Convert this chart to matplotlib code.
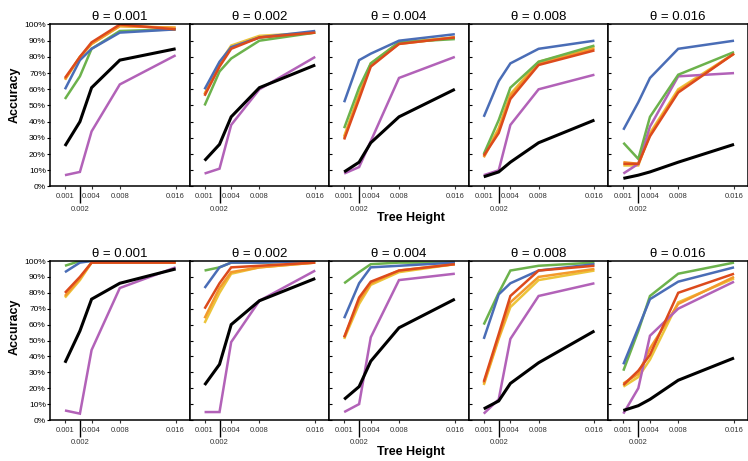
import numpy as np
import matplotlib
matplotlib.use('Agg')
import matplotlib.pyplot as plt
from matplotlib.ticker import FixedLocator, PercentFormatter, NullFormatter

plt.rcParams['font.family'] = ['Liberation Sans', 'DejaVu Sans']

# tree heights on the x axis, theta of each column
heights = [0.001, 0.002, 0.004, 0.008, 0.016]
thetas = ['0.001', '0.002', '0.004', '0.008', '0.016']

# accuracy in %, one list per panel (theta 0.001 .. 0.016)
top_black = [[25, 40, 61, 78, 85], [16, 26, 43, 61, 75], [9, 15, 27, 43, 60],
             [6, 9, 15, 27, 41], [5, 7, 9, 15, 26]]
top_purple = [[7, 9, 34, 63, 81], [8, 11, 38, 60, 80], [8, 12, 28, 67, 80],
              [7, 10, 38, 60, 69], [8, 14, 37, 68, 70]]
top_yellow = [[66, 80, 88, 99, 98], [57, 76, 87, 93, 95], [31, 57, 76, 89, 92],
              [19, 36, 57, 77, 86], [13, 13, 33, 60, 82]]
top_orange = [[66, 80, 88, 99, 98], [57, 75, 86, 92, 95], [30, 56, 75, 88, 92],
              [18, 35, 56, 76, 85], [15, 14, 32, 59, 82]]
top_green = [[54, 68, 85, 96, 97], [50, 71, 79, 90, 95], [36, 61, 76, 89, 91],
             [20, 41, 61, 77, 87], [27, 17, 43, 69, 83]]
top_blue = [[60, 78, 85, 95, 97], [60, 77, 86, 92, 96], [52, 78, 82, 90, 94],
            [43, 65, 76, 85, 90], [35, 52, 67, 85, 90]]
top_red = [[67, 80, 89, 100, 97], [56, 74, 85, 92, 95], [29, 54, 74, 88, 92],
           [19, 33, 54, 75, 84], [14, 14, 31, 58, 82]]

bot_black = [[36, 56, 76, 86, 95], [22, 35, 60, 75, 89], [13, 21, 37, 58, 76],
             [7, 12, 23, 36, 56], [6, 9, 13, 25, 39]]
bot_purple = [[6, 4, 44, 83, 96], [5, 5, 49, 75, 94], [5, 10, 52, 88, 92],
              [4, 13, 51, 78, 86], [4, 20, 53, 70, 87]]
bot_yellow = [[77, 88, 99, 99, 99], [61, 80, 92, 96, 99], [51, 73, 85, 93, 98],
              [22, 51, 71, 88, 94], [21, 27, 38, 74, 89]]
bot_orange = [[78, 89, 99, 99, 99], [64, 83, 93, 96, 99], [52, 75, 86, 94, 98],
              [23, 52, 74, 90, 95], [23, 29, 45, 73, 90]]
bot_green = [[97, 100, 100, 100, 100], [94, 96, 99, 99, 100], [86, 93, 98, 99, 99],
             [60, 80, 94, 97, 99], [31, 56, 78, 92, 99]]
bot_blue = [[93, 99, 100, 100, 100], [83, 96, 99, 99, 100], [64, 86, 96, 97, 99],
            [51, 79, 86, 94, 98], [35, 58, 76, 87, 96]]
bot_red = [[80, 90, 99, 99, 99], [70, 86, 96, 97, 99], [52, 77, 87, 94, 98],
           [24, 54, 78, 94, 97], [22, 31, 41, 80, 92]]

rows = [
    [top_yellow, top_orange, top_purple, top_green, top_blue, top_red, top_black],
    [bot_yellow, bot_orange, bot_purple, bot_green, bot_blue, bot_red, bot_black],
]
colors = ['#ecc43a', '#f39a2c', '#b262b8', '#6cb24c', '#4a6db6', '#dc4a1c', '#000000']
widths = [1.8, 1.8, 1.8, 1.8, 1.8, 1.8, 2.2]

# uneven spacing of the tree heights along the axis (as in the original)
scale_h = [0, 0.001, 0.002, 0.004, 0.008, 0.016, 0.032]
scale_px = [-15, 0, 15, 26.7, 55, 111, 223]


def fwd(x):
    return np.interp(x, scale_h, scale_px)


def inv(y):
    return np.interp(y, scale_px, scale_h)


W, H = 748, 461
fig = plt.figure(figsize=(W / 100, H / 100), dpi=100)

row_box = [(24.5, 186.5), (261, 420)]  # top / bottom pixel of each row

for r, series in enumerate(rows):
    top, bottom = row_box[r]
    for c in range(5):
        left = 50 + 139.6 * c
        ax = fig.add_axes([left / W, 1 - bottom / H, 139.6 / W, (bottom - top) / H])
        ax.set_xscale('function', functions=(fwd, inv))
        for data, col, lw in zip(series, colors, widths):
            ax.plot(heights, np.array(data[c]) / 100, color=col, lw=lw,
                    solid_capstyle='butt', solid_joinstyle='miter')
        ax.set_xlim(0, 0.018)
        ax.set_ylim(0, 1)
        for s in ax.spines.values():
            s.set_linewidth(1.1)

        ax.yaxis.set_major_locator(FixedLocator(np.arange(0, 1.01, 0.1)))
        if c == 0:
            ax.yaxis.set_major_formatter(PercentFormatter(1.0, decimals=0))
            ax.tick_params(axis='y', direction='out', length=2, width=0.8, pad=1, labelsize=6)
        else:
            ax.yaxis.set_major_formatter(NullFormatter())
            ax.tick_params(axis='y', direction='in', length=2, width=0.8)

        major = [h for h in heights if h != 0.002]
        ax.set_xticks(major)
        ax.set_xticklabels([str(h) for h in major])
        ax.set_xticks([0.002], minor=True)
        ax.set_xticklabels(['0.002'], minor=True)
        ax.tick_params(axis='x', which='major', direction='out', length=2, width=0.8,
                       pad=3, labelsize=5.5, colors='#333333')
        ax.tick_params(axis='x', which='minor', direction='out', length=12, width=1.0,
                       pad=2, labelsize=5.5, colors='#333333')
        ax.tick_params(axis='x', which='minor', color='black')

        ax.set_title('θ = ' + thetas[c], fontsize=9.5, pad=3)

fig.text(15 / W, 1 - 95 / H, 'Accuracy', rotation=90, ha='center', va='center',
         fontsize=9, fontweight='bold')
fig.text(15 / W, 1 - 327 / H, 'Accuracy', rotation=90, ha='center', va='center',
         fontsize=9, fontweight='bold')
fig.text(411 / W, 1 - 218 / H, 'Tree Height', ha='center', va='center',
         fontsize=9, fontweight='bold')
fig.text(411 / W, 1 - 452 / H, 'Tree Height', ha='center', va='center',
         fontsize=9, fontweight='bold')

fig.savefig('out.png', dpi=100)
